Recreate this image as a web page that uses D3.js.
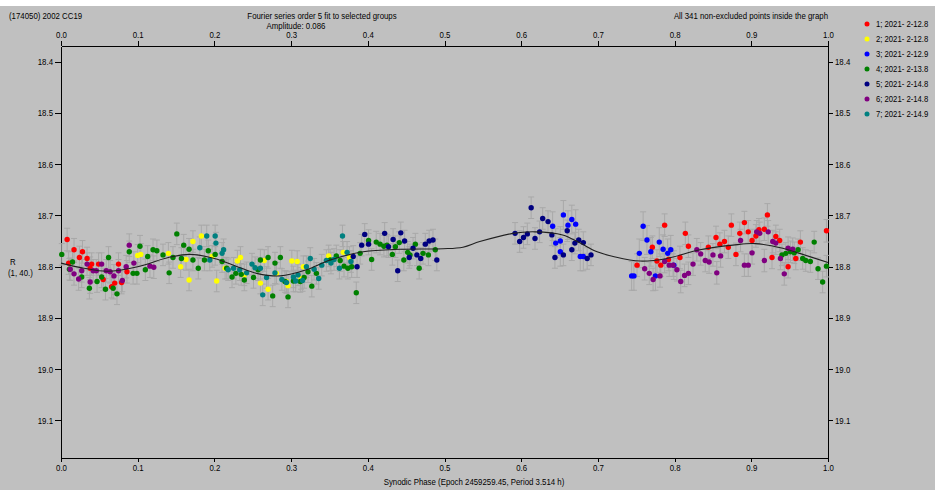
<!DOCTYPE html>
<html>
<head>
<meta charset="utf-8">
<script src="https://cdn.jsdelivr.net/npm/d3@7"></script>
<style>
	body { margin: 0; background: #c0c0c0; overflow: hidden; }
	svg text { font-family: "Liberation Sans", Arial, sans-serif; font-size: 9px; fill: #000; }
	.axis path, .axis line { stroke: #000; shape-rendering: crispEdges; }
	.axis text { font-size: 9px; }
	svg text.legend-label { font-size: 8.2px; }
</style>
</head>
<body>
<div id="picture"></div>
<script>
document.title = "Lightcurve :: (174050) 2002 CC19";

// ---- data (phase, R mag) ----
const groupLabels = ["1; 2021- 2-12.8", "2; 2021- 2-12.8", "3; 2021- 2-12.9", "4; 2021- 2-13.8",
                     "5; 2021- 2-14.8", "6; 2021- 2-14.8", "7; 2021- 2-14.9"];
const groupColors = ["#ff0000", "#ffff00", "#0000ff", "#008000", "#000080", "#800080", "#008080"];
const groupErrors = [0.022, 0.021, 0.028, 0.021, 0.021, 0.022, 0.021];

const g1 = [
	[0.008,18.747],[0.017,18.767],[0.028,18.771],[0.024,18.782],[0.034,18.784],[0.040,18.795],
	[0.049,18.795],[0.075,18.795],[0.086,18.810],[0.055,18.825],[0.070,18.832],[0.066,18.839],
	[0.079,18.831],[0.010,18.793],[0.038,18.803],
	[0.751,18.797],[0.771,18.762],[0.777,18.789],[0.782,18.797],[0.787,18.719],[0.792,18.786],
	[0.807,18.782],[0.814,18.735],[0.818,18.760],[0.844,18.762],[0.854,18.743],[0.859,18.756],
	[0.865,18.751],[0.870,18.762],[0.874,18.719],[0.880,18.776],[0.885,18.735],[0.891,18.714],
	[0.896,18.732],[0.901,18.749],[0.906,18.740],[0.910,18.728],[0.917,18.727],[0.921,18.699],
	[0.927,18.782],[0.932,18.741],[0.937,18.749],[0.948,18.800],[0.958,18.784],[0.964,18.752],
	[0.998,18.730]
];
const g2 = [
	[0.100,18.778],[0.104,18.776],[0.140,18.774],[0.156,18.800],[0.163,18.786],[0.167,18.826],
	[0.172,18.751],[0.183,18.740],[0.197,18.780],[0.203,18.828],[0.214,18.803],[0.230,18.789],
	[0.234,18.782],[0.239,18.816],[0.260,18.832],[0.265,18.788],[0.270,18.844],[0.281,18.813],
	[0.294,18.829],[0.296,18.837],[0.301,18.789],[0.308,18.790],[0.316,18.800],[0.313,18.823],
	[0.349,18.779],[0.368,18.772],[0.376,18.782]
];
const g3 = [
	[0.641,18.721],[0.645,18.754],[0.651,18.750],[0.651,18.771],[0.655,18.699],[0.661,18.719],
	[0.666,18.708],[0.671,18.717],[0.677,18.780],[0.681,18.780],
	[0.744,18.818],[0.747,18.818],[0.754,18.774],[0.759,18.721],[0.764,18.748],[0.769,18.771],
	[0.775,18.818],[0.780,18.752],[0.785,18.766],[0.791,18.774],[0.795,18.767],[0.799,18.797]
];
const g4 = [
	[0.001,18.776],[0.015,18.791],[0.011,18.805],[0.027,18.820],[0.037,18.842],[0.047,18.829],
	[0.053,18.820],[0.058,18.844],[0.062,18.782],[0.068,18.842],[0.073,18.853],[0.089,18.771],
	[0.094,18.813],[0.099,18.813],[0.103,18.760],[0.110,18.806],[0.113,18.780],[0.120,18.767],
	[0.125,18.769],[0.133,18.777],[0.141,18.812],[0.146,18.782],[0.151,18.736],[0.157,18.784],
	[0.160,18.758],[0.167,18.766],[0.172,18.787],[0.179,18.803],[0.187,18.787],[0.192,18.769],
	[0.201,18.776],[0.210,18.790],[0.216,18.803],[0.223,18.820],[0.228,18.813],[0.235,18.815],
	[0.239,18.826],[0.251,18.821],[0.257,18.806],[0.260,18.787],[0.270,18.782],[0.276,18.857],
	[0.279,18.793],[0.286,18.782],[0.292,18.829],[0.296,18.859],[0.303,18.828],[0.312,18.829],
	[0.317,18.821],[0.322,18.810],[0.327,18.838],[0.333,18.813],[0.351,18.787],[0.359,18.779],
	[0.364,18.788],[0.369,18.799],[0.374,18.803],[0.379,18.800],[0.385,18.851],[0.390,18.774],
	[0.401,18.749],[0.405,18.786],[0.411,18.752],[0.416,18.756],[0.421,18.760],[0.425,18.758],
	[0.432,18.776],[0.436,18.761],[0.441,18.753],[0.447,18.787],[0.452,18.772],[0.455,18.777],
	[0.462,18.756],[0.467,18.803],[0.472,18.774],[0.479,18.777],[0.488,18.767],
	[0.940,18.777],[0.945,18.774],[0.951,18.771],[0.956,18.773],[0.961,18.767],[0.967,18.784],
	[0.971,18.788],[0.977,18.790],[0.982,18.752],[0.987,18.804],[0.993,18.830],[0.998,18.799]
];
const g5 = [
	[0.381,18.780],[0.386,18.800],[0.392,18.758],[0.396,18.737],[0.401,18.756],[0.422,18.735],
	[0.427,18.761],[0.433,18.747],[0.439,18.808],[0.443,18.734],[0.448,18.750],[0.454,18.782],
	[0.459,18.764],[0.464,18.777],[0.469,18.784],[0.475,18.756],[0.480,18.750],[0.485,18.748],
	[0.490,18.787],
	[0.592,18.735],[0.598,18.751],[0.603,18.743],[0.608,18.736],[0.613,18.685],[0.618,18.745],
	[0.624,18.732],[0.628,18.706],[0.635,18.712],[0.640,18.738],[0.644,18.782],[0.655,18.777],
	[0.660,18.730],[0.666,18.767],[0.670,18.754],[0.675,18.748],[0.681,18.753],[0.686,18.784],
	[0.691,18.777]
];
const g6 = [
	[0.012,18.805],[0.017,18.814],[0.023,18.824],[0.027,18.808],[0.034,18.795],[0.038,18.830],
	[0.042,18.808],[0.046,18.808],[0.053,18.795],[0.059,18.808],[0.064,18.810],[0.069,18.818],
	[0.075,18.808],[0.080,18.827],[0.085,18.800],[0.089,18.758],[0.095,18.793],[0.116,18.799],
	[0.121,18.801],
	[0.761,18.804],[0.767,18.813],[0.772,18.825],[0.781,18.818],[0.787,18.790],[0.793,18.797],
	[0.798,18.797],[0.803,18.806],[0.808,18.829],[0.813,18.817],[0.818,18.813],[0.824,18.795],
	[0.829,18.767],[0.834,18.775],[0.840,18.788],[0.845,18.791],[0.850,18.777],[0.855,18.812],
	[0.860,18.779],[0.886,18.749],[0.891,18.797],[0.896,18.797],[0.901,18.773],[0.907,18.732],
	[0.911,18.735],[0.917,18.788],[0.922,18.732],[0.928,18.751],[0.932,18.754],[0.938,18.784],
	[0.943,18.814],[0.948,18.764],[0.954,18.766]
];
const g7 = [
	[0.181,18.763],[0.190,18.740],[0.201,18.740],[0.202,18.754],[0.194,18.787],[0.210,18.774],
	[0.212,18.767],[0.218,18.806],[0.225,18.803],[0.233,18.806],[0.242,18.812],[0.249,18.795],
	[0.253,18.802],[0.260,18.803],[0.263,18.855],[0.268,18.821],[0.279,18.812],[0.288,18.825],
	[0.294,18.831],[0.303,18.820],[0.306,18.828],[0.309,18.816],[0.315,18.827],[0.320,18.800],
	[0.325,18.784],[0.330,18.805],[0.336,18.823],[0.340,18.797],[0.346,18.788],[0.352,18.793],
	[0.356,18.786],[0.363,18.803],[0.367,18.740],[0.373,18.772],[0.378,18.790]
];
const groups = [g1, g2, g3, g4, g5, g6, g7];

// Fourier fit (order 5)
const fitCurve = [
	[0.000,18.793],[0.030,18.803],[0.060,18.809],[0.100,18.800],[0.140,18.782],[0.168,18.776],
	[0.200,18.784],[0.230,18.800],[0.255,18.813],[0.286,18.818],[0.320,18.806],[0.351,18.787],
	[0.394,18.771],[0.442,18.766],[0.498,18.765],[0.524,18.762],[0.546,18.751],[0.589,18.735],
	[0.618,18.732],[0.654,18.738],[0.677,18.754],[0.699,18.771],[0.720,18.780],[0.755,18.789],
	[0.790,18.784],[0.833,18.767],[0.876,18.758],[0.905,18.755],[0.941,18.764],[0.963,18.774],
	[1.000,18.792]
];

const xTicks = [0, 0.1, 0.2, 0.3, 0.4, 0.5, 0.6, 0.7, 0.8, 0.9, 1.0];
const yTicks = [18.4, 18.5, 18.6, 18.7, 18.8, 18.9, 19.0, 19.1];

// ---- layout ----
const width  = 935
	, height = 490
	, squeeze = 0.87   // the Windows font is narrower than Liberation Sans
	, plot   = { left: 61, right: 828, top: 46, bottom: 458 };

const svg = d3.select("#picture")
	.append("svg")
		.attr("width",  width)
		.attr("height", height);

svg.append("rect")
	.attr("width", width).attr("height", height).attr("fill", "#c0c0c0");
svg.append("rect")
	.attr("width", width).attr("height", 6).attr("fill", "#ffffff");

const x = d3.scaleLinear()
		.domain([0, 1])
		.range([plot.left, plot.right])
	, y = d3.scaleLinear()
		.domain([18.3694, 19.1733])
		.range([plot.top, plot.bottom])
	, fmt = d3.format(".1f");

// axes on all four sides
svg.append("g")
	.attr("class", "axis")
	.attr("transform", "translate(0," + plot.top + ")")
	.call(d3.axisTop(x).tickValues(xTicks).tickFormat(fmt).tickSize(5).tickPadding(3).tickSizeOuter(0));
svg.append("g")
	.attr("class", "axis")
	.attr("transform", "translate(0," + plot.bottom + ")")
	.call(d3.axisBottom(x).tickValues(xTicks).tickFormat(fmt).tickSize(4).tickPadding(3).tickSizeOuter(0));
svg.append("g")
	.attr("class", "axis")
	.attr("transform", "translate(" + plot.left + ",0)")
	.call(d3.axisLeft(y).tickValues(yTicks).tickFormat(fmt).tickSize(6).tickPadding(2).tickSizeOuter(0));
svg.append("g")
	.attr("class", "axis")
	.attr("transform", "translate(" + plot.right + ",0)")
	.call(d3.axisRight(y).tickValues(yTicks).tickFormat(fmt).tickSize(5).tickPadding(2).tickSizeOuter(0));
svg.selectAll(".axis .domain").attr("stroke", "#000");

// error bars, then points
const bars = svg.append("g")
	.attr("stroke", "#a8a8a8")
	.attr("stroke-width", 1);
const dots = svg.append("g");

groups.forEach(function(pts, gi) {
	const e = groupErrors[gi];
	const b = bars.selectAll(null)
		.data(pts)
		.enter();
	b.append("line")
		.attr("x1", d => x(d[0])).attr("x2", d => x(d[0]))
		.attr("y1", d => y(d[1] - e)).attr("y2", d => y(d[1] + e));
	b.append("line")
		.attr("x1", d => x(d[0]) - 3).attr("x2", d => x(d[0]) + 3)
		.attr("y1", d => y(d[1] - e)).attr("y2", d => y(d[1] - e));
	b.append("line")
		.attr("x1", d => x(d[0]) - 3).attr("x2", d => x(d[0]) + 3)
		.attr("y1", d => y(d[1] + e)).attr("y2", d => y(d[1] + e));
});

// fit curve
svg.append("path")
	.datum(fitCurve)
	.attr("fill", "none")
	.attr("stroke", "#202020")
	.attr("stroke-width", 1.1)
	.attr("d", d3.line()
		.x(d => x(d[0]))
		.y(d => y(d[1]))
		.curve(d3.curveCatmullRom));

groups.forEach(function(pts, gi) {
	dots.selectAll(null)
		.data(pts)
		.enter()
		.append("circle")
			.attr("cx", d => x(d[0]))
			.attr("cy", d => y(d[1]))
			.attr("r", 2.7)
			.attr("fill", groupColors[gi]);
});

// texts
svg.append("text").attr("x", 9).attr("y", 16).attr("dy", ".35em").text("(174050) 2002 CC19");
svg.append("text").attr("x", 322).attr("y", 16).attr("dy", ".35em").attr("text-anchor", "middle")
	.text("Fourier series order 5 fit to selected groups");
svg.append("text").attr("x", 296).attr("y", 26).attr("dy", ".35em").attr("text-anchor", "middle")
	.text("Amplitude: 0.086");
svg.append("text").attr("x", plot.right).attr("y", 16).attr("dy", ".35em").attr("text-anchor", "end")
	.text("All 341 non-excluded points inside the graph");
svg.append("text").attr("x", 474).attr("y", 482).attr("dy", ".35em").attr("text-anchor", "middle")
	.text("Synodic Phase (Epoch 2459259.45, Period 3.514 h)");
svg.append("text").attr("x", 10).attr("y", 262).attr("dy", ".35em").text("R");
svg.append("text").attr("x", 8).attr("y", 273).attr("dy", ".35em").text("(1, 40.)");

// legend
const legend = svg.append("g")
	.selectAll("g")
	.data(groupLabels)
	.enter()
	.append("g")
		.attr("transform", (d, i) => "translate(867," + (24 + i * 15) + ")");
legend.append("circle")
	.attr("r", 2.5)
	.attr("fill", (d, i) => groupColors[i]);
legend.append("text")
	.attr("class", "legend-label")
	.attr("x", 9)
	.attr("dy", ".35em")
	.text(d => d);

// narrow every label to the width of the original bitmap font
svg.selectAll("text").each(function() {
	const w = this.getComputedTextLength()
		, k = this.classList.contains("legend-label") ? 0.94 : squeeze;
	d3.select(this)
		.attr("textLength", w * k)
		.attr("lengthAdjust", "spacingAndGlyphs");
});
</script>
</body>
</html>
